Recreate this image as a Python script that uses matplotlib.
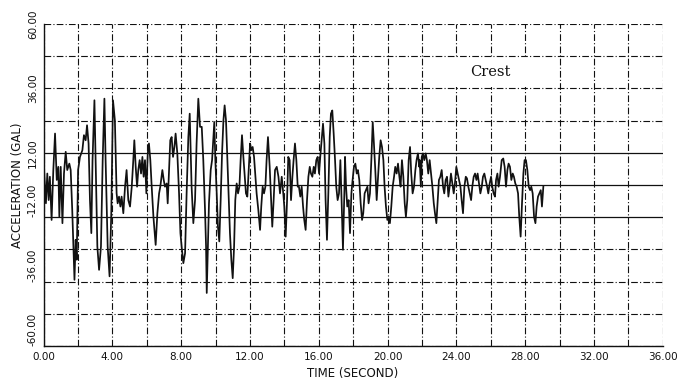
import matplotlib

matplotlib.use("Agg")
import matplotlib.pyplot as plt
from matplotlib.patches import Rectangle
from matplotlib.ticker import FixedLocator, FormatStrFormatter

# Acceleration record (time in s, acceleration in gal)
time_s = [
    0.00, 0.14, 0.22, 0.30, 0.37, 0.47, 0.57, 0.67, 0.77, 0.86, 0.92, 1.00, 1.10, 1.19,
    1.29, 1.38, 1.50, 1.58, 1.67, 1.80, 1.87, 1.93, 2.01, 2.12, 2.26, 2.35, 2.45, 2.53,
    2.62, 2.70, 2.78, 2.85, 2.96, 3.04, 3.13, 3.23, 3.34, 3.44, 3.54, 3.61, 3.73, 3.84,
    3.94, 4.04, 4.15, 4.25, 4.31, 4.39, 4.47, 4.54, 4.64, 4.74, 4.83, 4.93, 5.03, 5.13,
    5.22, 5.28, 5.36, 5.44, 5.51, 5.59, 5.67, 5.75, 5.82, 5.90, 5.98, 6.06, 6.13, 6.21,
    6.29, 6.39, 6.52, 6.62, 6.72, 6.79, 6.91, 6.99, 7.06, 7.16, 7.22, 7.30, 7.37, 7.45,
    7.53, 7.61, 7.68, 7.78, 7.88, 7.96, 8.03, 8.13, 8.23, 8.32, 8.42, 8.50, 8.61, 8.71,
    8.81, 8.90, 9.00, 9.10, 9.20, 9.29, 9.39, 9.45, 9.49, 9.54, 9.62, 9.72, 9.80, 9.87,
    9.93, 9.99, 10.07, 10.14, 10.22, 10.30, 10.38, 10.46, 10.53, 10.61, 10.69, 10.77,
    10.84, 10.92, 11.00, 11.08, 11.15, 11.23, 11.31, 11.39, 11.46, 11.54, 11.62, 11.70,
    11.77, 11.85, 11.93, 12.01, 12.08, 12.16, 12.24, 12.32, 12.39, 12.49, 12.59, 12.66,
    12.74, 12.82, 12.90, 12.97, 13.05, 13.15, 13.23, 13.30, 13.38, 13.46, 13.56, 13.66,
    13.75, 13.85, 13.94, 14.00, 14.08, 14.16, 14.23, 14.31, 14.39, 14.47, 14.54, 14.62,
    14.70, 14.78, 14.85, 14.93, 15.01, 15.09, 15.16, 15.24, 15.32, 15.40, 15.48, 15.55,
    15.63, 15.71, 15.78, 15.86, 15.94, 16.02, 16.09, 16.17, 16.25, 16.33, 16.40, 16.48,
    16.56, 16.64, 16.71, 16.79, 16.87, 16.95, 17.02, 17.10, 17.18, 17.26, 17.33, 17.41,
    17.49, 17.53, 17.59, 17.66, 17.74, 17.82, 17.90, 17.97, 18.05, 18.13, 18.21, 18.28,
    18.36, 18.44, 18.52, 18.59, 18.67, 18.75, 18.83, 18.90, 18.98, 19.06, 19.14, 19.21,
    19.29, 19.37, 19.45, 19.52, 19.60, 19.68, 19.76, 19.83, 19.91, 19.99, 20.07, 20.14,
    20.22, 20.30, 20.38, 20.45, 20.53, 20.61, 20.69, 20.76, 20.84, 20.92, 21.00, 21.07,
    21.15, 21.23, 21.31, 21.38, 21.46, 21.54, 21.62, 21.69, 21.77, 21.85, 21.87, 21.94,
    21.99, 22.06, 22.14, 22.22, 22.29, 22.37, 22.45, 22.53, 22.61, 22.69, 22.76, 22.84,
    22.92, 22.99, 23.07, 23.15, 23.23, 23.30, 23.38, 23.46, 23.54, 23.61, 23.69, 23.77,
    23.85, 23.92, 24.00, 24.08, 24.16, 24.24, 24.31, 24.39, 24.47, 24.55, 24.62, 24.70,
    24.78, 24.86, 24.93, 25.01, 25.09, 25.17, 25.24, 25.32, 25.40, 25.48, 25.55, 25.63,
    25.71, 25.79, 25.86, 25.94, 26.02, 26.09, 26.17, 26.25, 26.31, 26.39, 26.46, 26.54,
    26.64, 26.73, 26.81, 26.89, 26.97, 27.04, 27.12, 27.20, 27.28, 27.35, 27.43, 27.51,
    27.59, 27.66, 27.74, 27.82, 27.90, 27.97, 28.05, 28.13, 28.21, 28.29, 28.36, 28.44,
    28.52, 28.60, 28.67, 28.75, 28.83, 28.91, 28.98, 29.06,
]
accel_gal = [
    9.3, -6.8, 4.3, -5.6, 3.1, -13.0, 5.6, 19.2, 1.9, 6.8, -11.8, 6.8, -14.2, 4.3,
    12.4, 5.6, 8.0, 5.6, -9.3, -35.3, -20.4, -27.8, 5.6, 10.5, 13.0, 18.6, 16.7, 22.3,
    15.5, -5.6, -17.9, 9.3, 31.6, 5.6, -22.9, -31.6, -22.9, 9.3, 32.2, 9.3, -22.9, -34.0,
    -10.5, 31.6, 24.1, -3.1, -6.8, -4.3, -8.0, -4.3, -10.5, -0.6, 5.6, -5.6, -8.0, -0.6,
    9.3, 16.7, 6.8, -0.6, 5.6, 9.3, 4.3, 10.5, 3.1, 9.3, -3.1, 11.8, 15.5, 9.3,
    -0.6, -11.8, -22.3, -10.5, -3.1, -0.6, 5.6, 1.9, -0.6, 0.6, -6.8, 5.6, 16.7, 17.9,
    10.5, 14.2, 19.2, 11.8, -3.1, -17.9, -22.9, -29.1, -25.4, -3.1, 17.9, 26.6, -0.6, -14.2,
    -5.6, 15.5, 32.2, 21.7, 21.7, 9.3, -9.3, -22.9, -40.2, -27.8, -6.8, 5.6, 9.3, 16.7,
    23.5, 9.3, -3.1, -15.5, -21.0, -5.6, 11.8, 24.1, 29.7, 24.1, 9.3, -5.6,
    -17.9, -27.8, -34.7, -22.9, -5.6, 0.6, -3.1, -0.6, 9.3, 18.6, 10.5, 3.1,
    -3.1, -4.3, 5.6, 15.5, 13.0, 14.2, 10.5, 3.1, -3.1, -9.3, -16.7, -8.0,
    -0.6, -3.1, -0.6, 9.3, 17.9, 6.8, -5.6, -15.5, -5.6, 5.6, 6.8, 3.1,
    -3.1, 3.1, -3.1, -8.0, -19.2, -5.6, 10.5, 9.3, -5.6, 3.1, 9.3, 15.5,
    9.3, -0.6, -0.6, -4.3, -0.6, -8.0, -13.0, -16.7, -5.6, 3.1, 6.8, 4.3,
    3.1, 6.8, 4.3, 9.3, 10.5, 4.3, 10.5, 16.7, 22.9, 15.5, -5.6, -20.4,
    -3.1, 17.9, 26.6, 27.8, 19.2, 9.3, -0.6, -5.6, -3.1, 9.3, -5.6, -24.1,
    -3.1, 10.5, -0.6, -8.0, -5.6, -17.9, -3.1, 1.9, 6.8, 8.0, 4.3, 5.6,
    1.9, -6.8, -13.0, -10.5, -3.1, -1.9, -0.6, -6.8, -3.1, 9.3, 23.5, 15.5,
    5.6, -5.6, 3.1, 10.5, 16.7, 14.2, 9.3, -0.6, -8.0, -13.0, -11.8, -14.2,
    -8.0, -0.6, 3.1, 6.8, 4.3, 8.0, 3.1, -0.6, 9.3, 3.1, -6.8, -11.8,
    -5.6, 9.3, 14.2, 4.3, -3.1, -0.6, 5.6, 9.3, 11.8, 6.8, 9.3, -0.6,
    10.5, 11.8, 9.3, 11.8, 9.3, 4.3, 9.3, 4.3, -0.6, -6.8, -10.5, -14.2,
    -5.6, 1.9, 3.1, 5.6, -0.6, -3.1, 1.9, 3.1, -4.3, -0.6, 4.3, 0.6,
    -3.1, 0.6, 6.8, 4.3, 1.9, -0.6, -5.6, -10.5, -0.6, 3.1, 2.5, -0.6,
    -3.1, -5.6, -0.6, 3.1, 4.3, 1.9, 4.3, 0.6, -3.1, -0.6, 3.1, 4.3,
    1.9, -0.6, -3.1, 0.6, 3.1, -0.6, -3.1, -4.3, 1.9, 4.3, -0.6, 3.1,
    9.3, 9.9, 6.8, -0.6, 5.6, 8.0, 6.8, 1.9, 4.3, 3.1, 0.6, -0.6,
    -3.1, -11.8, -19.2, -6.8, 4.3, 9.3, 9.3, 5.6, -0.6, -1.9, -0.6, -3.1,
    -11.8, -14.2, -8.0, -4.3, -3.1, -1.9, -8.0, -0.6,
]

x_labels = [0, 4, 8, 12, 16, 20, 24, 28, 32, 36]
x_grid = list(range(0, 37, 2))
y_labels = [-60, -36, -12, 12, 36, 60]
y_grid = list(range(-60, 61, 12))
solid_y = [-12, 0, 12]

INK = "#111111"
DASHDOT = (0, (6, 2, 1, 2))

fig = plt.figure(figsize=(6.94, 3.88), dpi=100, facecolor="white")
ax = fig.add_axes([0.0627, 0.108, 0.8922, 0.830])

for gx in x_grid:
    ax.axvline(gx, color=INK, lw=0.8, ls=DASHDOT, zorder=1)
for gy in y_grid:
    if gy in solid_y:
        ax.axhline(gy, color=INK, lw=0.9, zorder=1)
    else:
        ax.axhline(gy, color=INK, lw=0.8, ls=DASHDOT, zorder=1)

ax.plot(time_s, accel_gal, color=INK, lw=1.25, zorder=3)

ax.set_xlim(0, 36)
ax.set_ylim(-60, 60)
ax.xaxis.set_major_locator(FixedLocator(x_labels))
ax.yaxis.set_major_locator(FixedLocator(y_labels))
ax.xaxis.set_major_formatter(FormatStrFormatter("%.2f"))
ax.yaxis.set_major_formatter(FormatStrFormatter("%.2f"))
ax.tick_params(axis="both", length=0, colors=INK, labelsize=7.5)
ax.tick_params(axis="x", pad=4)
ax.tick_params(axis="y", pad=4)
fig.canvas.draw()
for val, lbl in zip(y_labels, ax.get_yticklabels()):
    lbl.set_rotation(90)
    lbl.set_va("bottom" if val < 0 else "center")

for side in ("top", "right"):
    ax.spines[side].set_visible(False)
for side in ("left", "bottom"):
    ax.spines[side].set_color(INK)
    ax.spines[side].set_linewidth(1.0)

ax.set_xlabel("TIME (SECOND)", fontsize=8.5, color=INK, labelpad=4)
ax.set_ylabel("ACCELERATION (GAL)", fontsize=8.5, color=INK, labelpad=3)

# blank panel behind the station label, as on the original plot
ax.add_patch(Rectangle((23.1, 36.6), 5.8, 10.8, facecolor="white",
                       edgecolor="none", zorder=2))
ax.text(26.0, 42.0, "Crest", family="DejaVu Serif", fontsize=10.5,
        color=INK, ha="center", va="center", zorder=4)

fig.savefig("out.png", dpi=100, facecolor="white")
